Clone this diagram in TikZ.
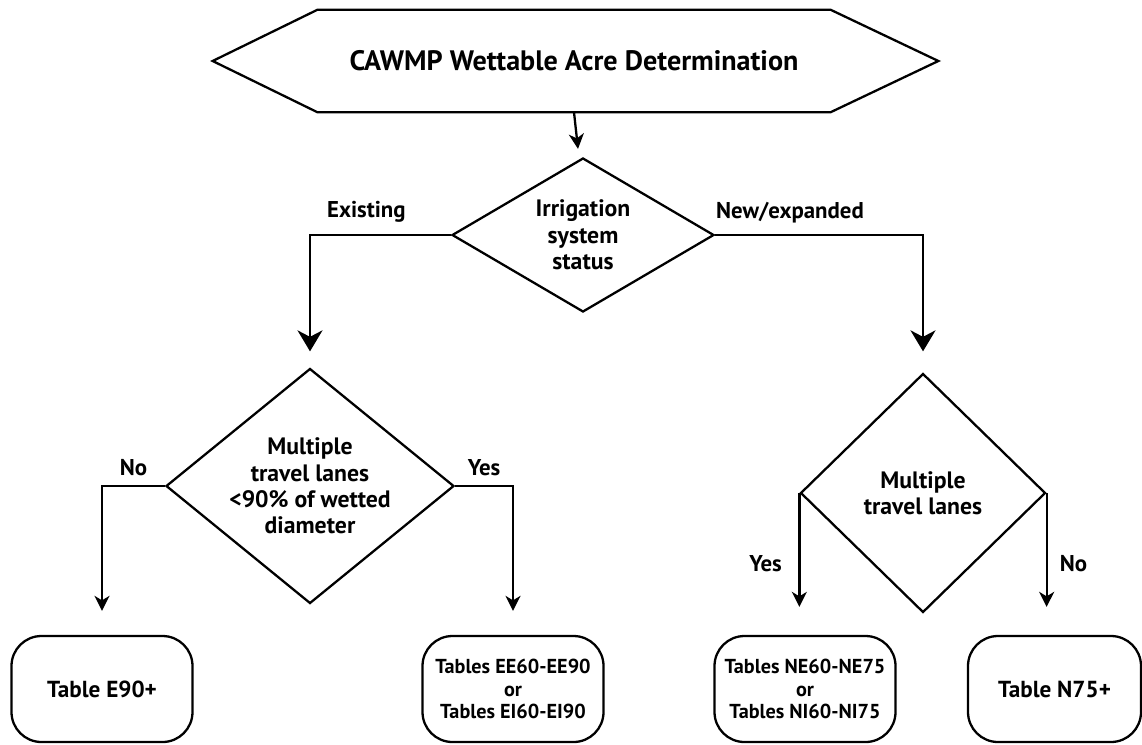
\documentclass[tikz,border=0pt]{standalone}
\usepackage{fontspec}
\setmainfont{PT Sans}
\usetikzlibrary{arrows.meta,positioning,shapes.geometric,calc}

\tikzset{
  decision/.style={draw, diamond, line width=1.3pt, inner sep=0pt, align=center,
    font=\bfseries\fontsize{13.5}{15}\selectfont},
  tablebox/.style={draw, rounded corners=0.6cm, line width=1.3pt, minimum width=3.62cm,
    minimum height=2.12cm, align=center},
  flow/.style={line width=1.3pt, -{Stealth[length=0.3cm,width=0.3cm,inset=0.09cm]}},
  bigflow/.style={line width=1.3pt, -{Stealth[length=0.42cm,width=0.5cm,inset=0.13cm]}},
  branch/.style={font=\bfseries\fontsize{13}{15}\selectfont},
}

\begin{document}
\begin{tikzpicture}
    \useasboundingbox (0,0) rectangle (22.84,14.88);
    % heading
    \node[minimum width=10.24cm, minimum height=2.04cm, inner sep=0pt,
      font=\bfseries\fontsize{16}{19}\selectfont] (head) at (11.48,13.66)
      {CAWMP Wettable Acre Determination};
    \draw[line width=1.3pt] ($(head.west)+(-2.1,0)$) -- (head.north west) -- (head.north east)
      -- ($(head.east)+(2.16,0)$) -- (head.south east) -- (head.south west) -- cycle;

    % decisions
    \node[decision, minimum width=5.24cm, minimum height=3.08cm, aspect=1.7] (status)
      at (11.66,10.18) {Irrigation\\system\\status};
    \node[decision, minimum width=5.76cm, minimum height=4.7cm, aspect=1.22] (lanesE)
      at (6.2,5.16) {Multiple\\travel lanes\\<90\% of wetted\\diameter};
    \node[decision, minimum width=4.9cm, minimum height=4.78cm, aspect=1.02] (lanesN)
      at (18.46,5.02) {Multiple\\travel lanes};

    % tables
    \node[tablebox, font=\bfseries\fontsize{13.2}{15}\selectfont] (tE90) at (2.04,1.1) {Table E90+};
    \node[tablebox, font=\bfseries\fontsize{11.5}{12.8}\selectfont] (tEE) at (10.26,1.1)
      {Tables EE60-EE90\\or\\Tables EI60-EI90};
    \node[tablebox, font=\bfseries\fontsize{11.5}{12.8}\selectfont] (tNE) at (16.1,1.1)
      {Tables NE60-NE75\\or\\Tables NI60-NI75};
    \node[tablebox, minimum width=3.46cm, font=\bfseries\fontsize{13.2}{15}\selectfont] (tN75)
      at (21.09,1.1) {Table N75+};

    % connectors
    \draw[flow] (head.south) -- ([shift={(-0.1,0.16)}]status.north);
    \draw[bigflow, shorten >=0.32cm] (status.west) -| node[branch, pos=0.3, above=3pt] (lblexist)
      {Existing} (lanesE.north);
    \draw[bigflow, shorten >=0.42cm] (status.east) -| node[branch, pos=0.18, above=3pt] (lblnew)
      {New/expanded} (lanesN.north);
    \draw[flow, shorten >=0.48cm] (lanesE.west) -| node[branch, pos=0.25, above=2pt] (lblnoE)
      {No} (tE90.north);
    \draw[flow, shorten >=0.48cm] (lanesE.east) -| node[branch, pos=0.25, above=2pt] (lblyesE)
      {Yes} (tEE.north);
    \draw[flow, shorten >=0.56cm] (lanesN.west) -- node[branch, left=6pt] (lblyesN) {Yes}
      (lanesN.west |- tNE.north);
    \draw[flow, shorten >=0.56cm] (lanesN.east) -- node[branch, right=3.5pt] (lblnoN) {No}
      (lanesN.east |- tN75.north);
\end{tikzpicture}
\end{document}
